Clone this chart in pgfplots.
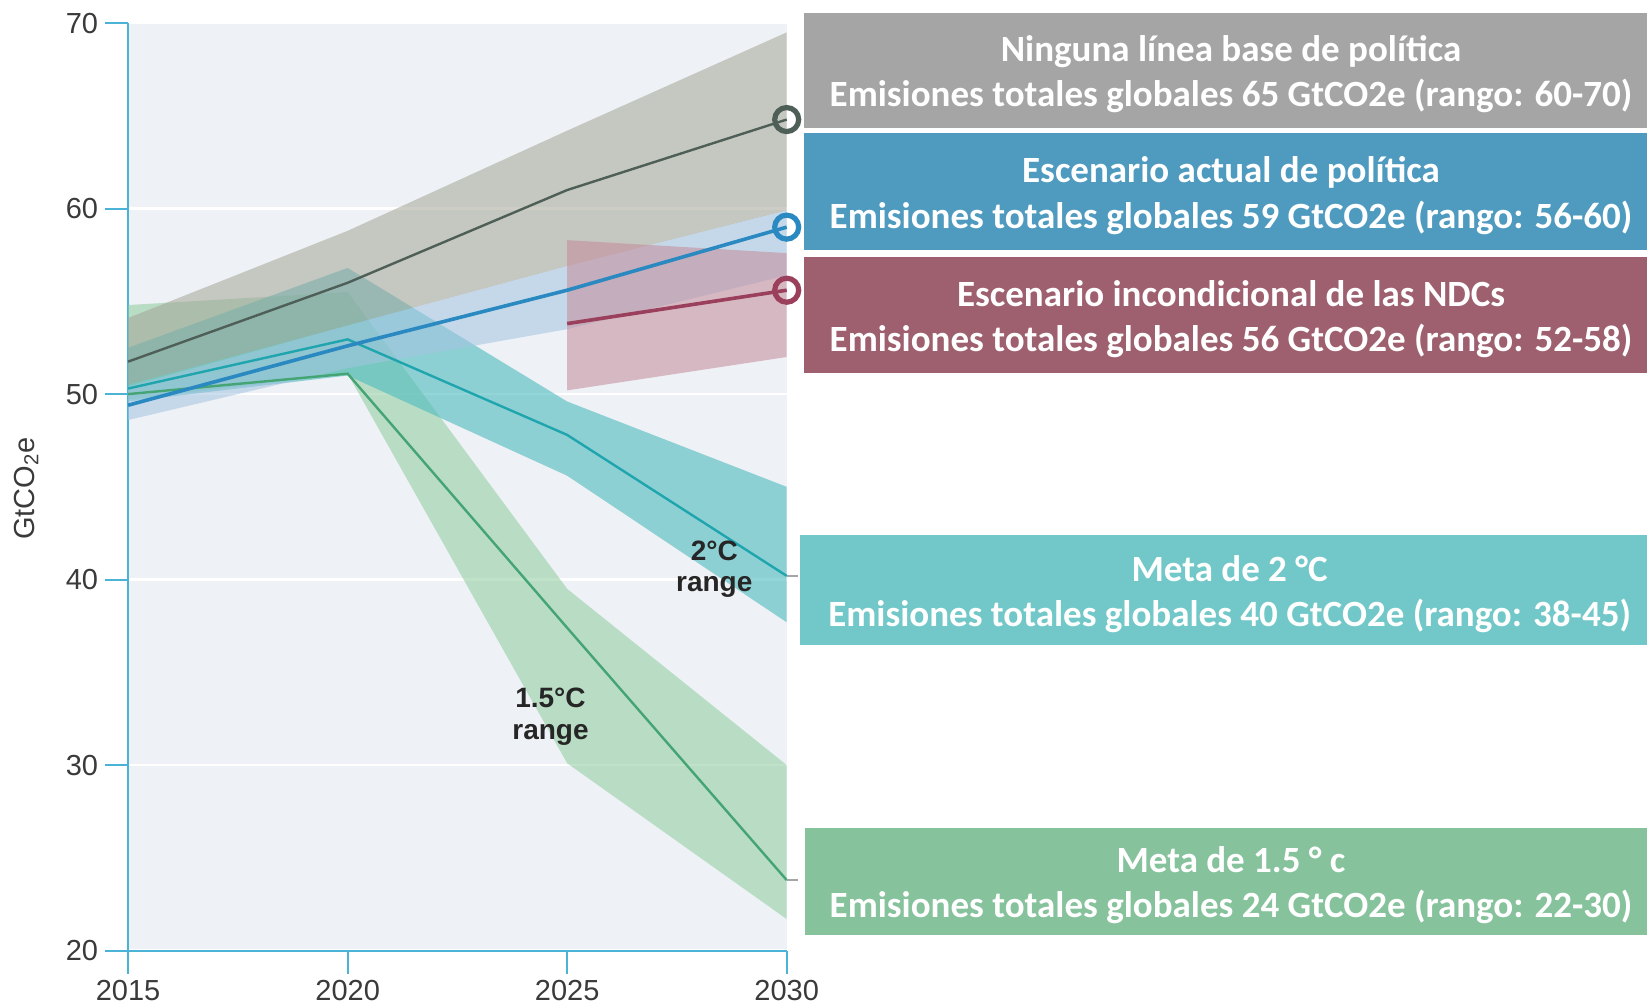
\documentclass[border=0pt]{standalone}
\usepackage{pgfplots}
\pgfplotsset{compat=1.18}
\usepackage{fontspec}
\setmainfont{Liberation Sans}
\newfontfamily\carlito{Carlito}
\definecolor{bgc}{HTML}{EEF1F5}
\definecolor{axc}{HTML}{4BB3D6}
\definecolor{tickc}{HTML}{3A3A3A}
\definecolor{bandgray}{HTML}{A4A598}
\definecolor{bandblue}{HTML}{A5C4E2}
\definecolor{bandpink}{HTML}{C48A99}
\definecolor{bandteal}{HTML}{4DBBBE}
\definecolor{bandgreen}{HTML}{8CCB9C}
\definecolor{lgray}{HTML}{4E5F57}
\definecolor{lblue}{HTML}{2A89C0}
\definecolor{lmaroon}{HTML}{9A3F5C}
\definecolor{lteal}{HTML}{1FA5AD}
\definecolor{lgreen}{HTML}{45A474}
\definecolor{boxgray}{HTML}{A5A5A5}
\definecolor{boxblue}{HTML}{4F9BC0}
\definecolor{boxmaroon}{HTML}{9E5F6E}
\definecolor{boxteal}{HTML}{72C8C8}
\definecolor{boxgreen}{HTML}{86C29C}
\begin{document}
\begin{tikzpicture}
\useasboundingbox (0,0) rectangle (823.5pt,502.5pt);
\begin{axis}[
  at={(64.05pt,27.2pt)}, anchor=south west,
  scale only axis, width=329.3pt, height=463.75pt,
  xmin=0, xmax=15, ymin=20, ymax=70,
  xtick={0,5,10,15}, xticklabels={2015,2020,2025,2030},
  ytick={20,30,40,50,60,70},
  axis lines*=left,
  axis line style={-, color=axc, line width=1pt},
  tick align=outside, major tick length=11.5pt,
  tick style={axc, line width=1pt},
  /pgf/number format/assume math mode=true,
  ticklabel style={font=\fontsize{14.5}{16}\selectfont, text=tickc},
  axis background/.style={fill=bgc},
  ymajorgrids, grid style={white, line width=1.2pt},
  clip=false,
]
% bands (x = year - 2015)
\addplot[draw=none, fill=bandgreen, fill opacity=0.55] coordinates {(0,54.8) (5,55.5) (10,39.5) (15,30.0) (15,21.7) (10,30.1) (5,51.1) (0,49.7) (0,54.8)};
\addplot[draw=none, fill=bandteal, fill opacity=0.6] coordinates {(0,52.5) (5,56.8) (10,49.6) (15,45.0) (15,37.7) (10,45.6) (5,51.0) (0,49.6) (0,52.5)};
\addplot[draw=none, fill=bandgray, fill opacity=0.55] coordinates {(0,54.1) (5,58.8) (10,64.2) (15,69.5) (15,59.9) (10,56.9) (5,53.7) (0,50.5) (0,54.1)};
\addplot[draw=none, fill=bandblue, fill opacity=0.55] coordinates {(0,50.4) (5,53.7) (10,56.9) (15,59.9) (15,56.4) (10,53.5) (5,51.4) (0,48.6) (0,50.4)};
\addplot[draw=none, fill=bandpink, fill opacity=0.55] coordinates {(10,58.3) (15,57.6) (15,52.0) (10,50.2) (10,58.3)};
% lines
\addplot[lgreen, line width=1.2pt] coordinates {(0,50.0) (5,51.1) (10,37.4) (15,23.8)};
\addplot[lteal, line width=1.2pt] coordinates {(0,50.3) (5,52.95) (10,47.8) (15,40.2)};
\addplot[lgray, line width=1.2pt] coordinates {(0,51.75) (5,56.0) (10,61.0) (15,64.8)};
\addplot[lblue, line width=1.8pt] coordinates {(0,49.4) (5,52.6) (10,55.6) (15,59.0)};
\addplot[lmaroon, line width=1.8pt] coordinates {(10,53.8) (15,55.6)};
% end circles
\addplot[only marks, mark=o, mark size=6pt, mark options={line width=2.6pt, draw=lgray}] coordinates {(15,64.8)};
\addplot[only marks, mark=o, mark size=6pt, mark options={line width=2.6pt, draw=lblue}] coordinates {(15,59.0)};
\addplot[only marks, mark=o, mark size=6pt, mark options={line width=2.6pt, draw=lmaroon}] coordinates {(15,55.6)};
% leader dashes
\draw[gray!70, line width=0.8pt] (axis cs:15,40.2) -- ++(5.5pt,0pt);
\draw[gray!70, line width=0.8pt] (axis cs:15,23.8) -- ++(5.5pt,0pt);
% range labels
\node[font=\bfseries\fontsize{14}{15.75}\selectfont, text=black!85, align=center] at (axis cs:13.35,40.55) {2°C\\range};
\node[font=\bfseries\fontsize{14}{15.75}\selectfont, text=black!85, align=center] at (axis cs:9.62,32.6) {1.5°C\\range};
\end{axis}
% y label
\node[rotate=90, font=\fontsize{14.5}{16}\selectfont, text=tickc] at (13.1pt,258.3pt) {GtCO\textsubscript{2}e};
% boxes
\fill[boxgray] (401.8pt,438.4pt) rectangle (823.5pt,496.2pt);
\fill[boxblue] (401.8pt,377.5pt) rectangle (823.5pt,435.8pt);
\fill[boxmaroon] (401.8pt,316.05pt) rectangle (823.5pt,373.85pt);
\fill[boxteal] (400.2pt,180pt) rectangle (823.5pt,235.15pt);
\fill[boxgreen] (402.3pt,35.05pt) rectangle (823.5pt,88.65pt);
\tikzset{boxtext/.style={text=white, font=\carlito\bfseries\fontsize{18.5}{22.6}\selectfont, align=center}}
\node[boxtext] at (615.5pt,465.3pt) {Ninguna línea base de política\\Emisiones totales globales 65 GtCO2e (rango: 60-70)};
\node[boxtext] at (615.5pt,404.65pt) {Escenario actual de política\\Emisiones totales globales 59 GtCO2e (rango: 56-60)};
\node[boxtext] at (615.5pt,342.95pt) {Escenario incondicional de las NDCs\\Emisiones totales globales 56 GtCO2e (rango: 52-58)};
\node[boxtext] at (614.8pt,205.6pt) {Meta de 2 °C\\Emisiones totales globales 40 GtCO2e (rango: 38-45)};
\node[boxtext] at (615.5pt,59.85pt) {Meta de 1.5 ° c\\Emisiones totales globales 24 GtCO2e (rango: 22-30)};
\end{tikzpicture}
\end{document}
